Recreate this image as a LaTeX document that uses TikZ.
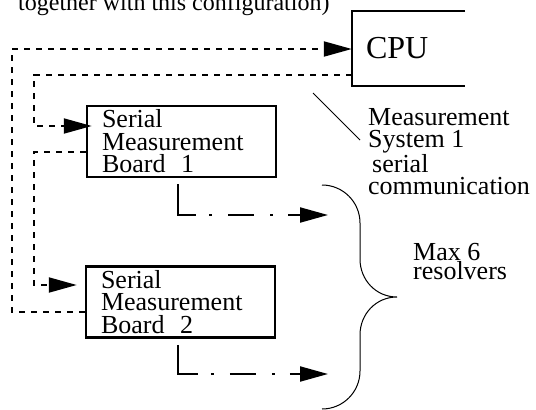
\documentclass[tikz,border=0pt]{standalone}
\usepackage{fontspec}
\setmainfont{Liberation Serif}
\usetikzlibrary{arrows.meta,positioning,calc}

\tikzset{
  placa/.style={draw, line width=2.5pt, minimum width=189pt, minimum height=71pt,
    text width=159pt, inner xsep=15pt, inner ysep=0pt, align=left,
    font=\fontsize{26}{22.5}\selectfont},
  cpubox/.style={minimum width=113pt, minimum height=75pt, text width=85pt,
    inner xsep=14pt, inner ysep=0pt, align=left, font=\fontsize{32}{34}\selectfont},
  texto/.style={inner sep=0pt, align=left, font=\fontsize{26}{22.5}\selectfont},
  punteado/.style={line width=2pt, dash pattern=on 6pt off 6pt},
  rayapunto/.style={line width=2pt,
    dash pattern=on 49pt off 13pt on 3pt off 16pt on 26pt off 16pt on 3pt off 15pt on 60pt},
  flecha/.style={-{Triangle[length=28pt,width=15pt]}},
  llave/.style={line width=1pt}
}

\begin{document}
\begin{tikzpicture}[x=1pt, y=-1pt]
    \useasboundingbox (0,0) rectangle (536,410);

    % Nota
    \node[anchor=base west, inner sep=0pt, font=\fontsize{24}{26}\selectfont] (nota) at (18,10) {together with this configuration)};

    % CPU
    \node[cpubox] (cpu) at (408.5,48.5) {CPU};
    \draw[line width=1.5pt] (cpu.north east) -- (cpu.north west) -- (cpu.south west) -- (cpu.south east);

    % Placas
    \node[placa] (b1) at (181.5,141.5) {Serial\\Measurement\\Board\hspace{0.6em}1};
    \node[placa] (b2) at (180.5,302) {Serial\\Measurement\\Board\hspace{0.6em}2};

    % Comunicacion serie
    \coordinate (esq1) at (12,49);
    \coordinate (esq2) at (34,126);
    \coordinate (esq3) at (34,285);
    \draw[punteado, flecha] ($(b2.west)+(0,10)$) -| (esq1) -- (esq1 -| cpu.west);
    \draw[punteado, flecha] ($(cpu.south west)+(0,-11)$) -| (esq2) -- ([xshift=6pt]esq2 -| b1.west);
    \draw[punteado, flecha] ($(b1.west)+(0,10.5)$) -| (esq3) -- ([xshift=-8pt]esq3 -| b2.west);

    % Resolvers
    \coordinate (r1) at (328,215);
    \coordinate (r2) at (328,374);
    \draw[rayapunto, flecha] ($(b1.south)+(-3.5,6)$) |- (r1);
    \draw[rayapunto, flecha] ($(b2.south)+(-2.5,6)$) |- (r2);

    % Llave
    \draw[llave] (322,185) .. controls (343,185) and (360,202) .. (360,223) -- (360,259)
        .. controls (360,280) and (376,297) .. (397,297)
        .. controls (376,297) and (360,314) .. (360,335) -- (360,371)
        .. controls (360,392) and (343,409) .. (322,409);

    % Textos
    \coordinate (linea1) at (313,93);
    \coordinate (linea2) at (360,140);
    \draw[line width=0.8pt] (linea1) -- (linea2);
    \node[texto, anchor=north west] (sistema) at (368,107.8) {Measurement\\System 1\\\hspace{4pt}serial\\communication};
    \node[texto, anchor=north west, font=\fontsize{26}{18}\selectfont] (max) at (413,242.8) {Max 6\\resolvers};
\end{tikzpicture}
\end{document}
